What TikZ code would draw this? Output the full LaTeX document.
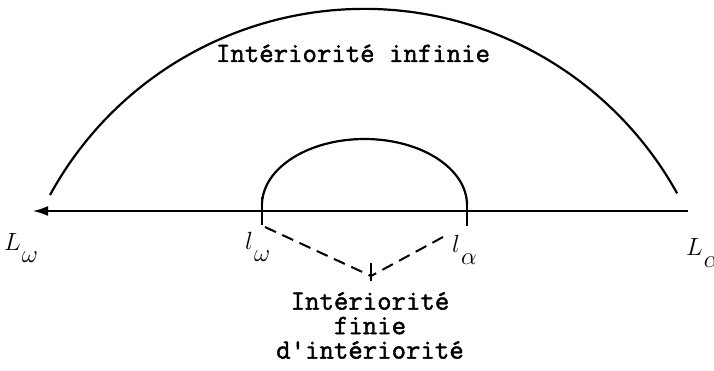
\documentclass[tikz,border=0pt]{standalone}
\usepackage{fontspec}
\newfontfamily\typefont{Latin Modern Mono}[FakeBold=1.6]
\usetikzlibrary{arrows.meta}
\newcommand{\sublabel}[2]{$#1$\kern1pt\raisebox{-12pt}{$#2$}}

\begin{document}
\begin{tikzpicture}[x=1pt, y=-1pt,
    axis/.style={line width=2.8pt, {Latex[length=16pt,width=10pt]}-},
    curve/.style={line width=2.2pt},
    tick/.style={line width=2.4pt},
    link/.style={line width=2pt, dash pattern=on 12pt off 7pt},
    typed/.style={font=\fontsize{28}{24.5}\selectfont\typefont, inner sep=0pt},
    pole/.style={font=\fontsize{25}{30}\selectfont, inner sep=0pt, anchor=base west}
  ]
  \useasboundingbox (0,0) rectangle (714,371);

  % axis with its outer ends
  \coordinate (Lw) at (32,211);
  \coordinate (La) at (688,211);
  \draw[axis] (Lw) -- (La);

  % inner poles
  \coordinate (lw) at (262,211);
  \coordinate (la) at (467,211);
  \draw[tick] ([yshift=14pt]lw) -- ([yshift=-14pt]lw);
  \draw[tick] ([yshift=10pt]la) -- ([yshift=-15pt]la);

  % arcs
  \coordinate (arcW) at (50,195);
  \draw[curve] (arcW) arc[start angle=-151.3, end angle=-29, radius=358];
  \draw[curve] ([yshift=6pt]lw) arc[start angle=180, end angle=360, x radius=102.5, y radius=66];

  % finite interiority
  \coordinate (apex) at (371,276);
  \draw[link] ([shift={(3,16)}]lw) -- (apex);
  \draw[link] ([shift={(-24,26)}]la) -- (apex);
  \draw[tick] ([yshift=13pt]apex) -- ([yshift=-5pt]apex);

  % labels
  \node[pole] (Lwlabel) at (4,251) {\sublabel{L}{\omega}};
  \node[pole] (lwlabel) at (245,249) {\sublabel{l}{\omega}};
  \node[pole] (lalabel) at (452,252) {\sublabel{l}{\alpha}};
  \node[pole] (Lalabel) at (686,255) {\sublabel{L}{\alpha}};

  \node[typed, anchor=base] (infinite) at (353,62) {Intériorité infinie};
  \node[typed, align=center, anchor=north] (finite) at (370,292) {Intériorité\\finie\\d'intériorité};
\end{tikzpicture}
\end{document}
